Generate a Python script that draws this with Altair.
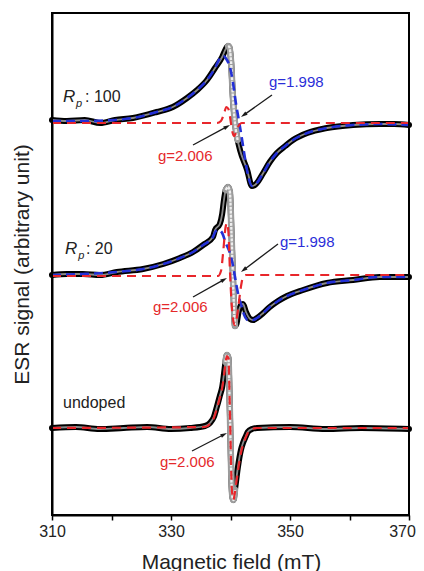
import math
import altair as alt
import pandas as pd

# ---------------- data ----------------
# Rp:100 spectrum (signal relative to its own baseline)
top_field = [310.0, 312.5, 315.5, 318.1, 320.6, 323.6, 327.6, 330.3, 332.7, 334.4, 336.05, 337.4,
             338.6, 339.2, 339.6, 339.8, 340.1, 340.4, 340.75, 341.2, 341.6, 342.8, 343.6, 344.1,
             345.5, 346.6, 347.8, 349.2, 350.5, 352.9, 356.2, 360.6, 365.1, 367.5, 370.0]
top_data = [3, 2, 3, 0, 3, 5, 11, 16, 25, 33, 43, 55,
            66, 74, 77, 76, 61, 26, 0, -17, -27, -47, -63, -62,
            -50, -39, -30, -23, -17, -10, -5, -2, -1, -1, -2]
top_blue_field = [310.0, 315.5, 320.6, 323.6, 327.6, 330.3, 332.7, 334.4, 336.05, 337.4, 338.05,
                  338.8, 339.4, 339.9, 340.4, 340.9, 341.4, 341.9, 342.4, 342.9, 343.6, 344.1,
                  345.5, 346.6, 347.8, 349.2, 350.5, 352.9, 356.2, 360.6, 365.1, 370.0]
top_blue = [2, 2, 3, 5, 11, 16, 25, 33, 43, 55, 63,
            67, 63, 56, 41, 20, 3, -15, -34, -51, -63, -62,
            -50, -39, -30, -23, -17, -10, -5, -2, -1, -2]
top_red_field = [310.0, 337.7, 338.4, 338.9, 339.3, 339.65, 340.0, 340.25, 340.6, 340.9, 341.35, 341.9, 370.0]
top_red = [0, 0, 2, 9, 16, 14, 3, -7, -13, -10, -3, 0, 0]

# Rp:20 spectrum
mid_field = [310.0, 312.5, 315.2, 318.1, 320.9, 325.3, 328.7, 331.5, 333.7, 335.4, 337.05, 337.4,
             338.2, 338.6, 338.9, 339.2, 339.6, 339.9, 340.15, 340.4, 340.6, 340.75, 341.0, 341.35,
             341.8, 342.1, 342.6, 343.3, 343.8, 344.45, 345.5, 346.6, 348.0, 349.5, 352.2, 356.2,
             360.6, 365.1, 370.0]
mid_data = [0, 1, 1, 0, 3, 6, 11, 17, 23, 30, 38, 45,
            51, 61, 75, 85, 88, 83, 45, 0, -35, -51, -49, -37,
            -30, -29, -37, -44, -45, -43, -38, -32, -26, -21, -15, -8,
            -5, -2, -2]
mid_blue_field = [310.0, 315.2, 320.9, 325.3, 328.7, 331.5, 333.7, 335.4, 337.05, 337.55, 338.05,
                  338.6, 339.2, 339.9, 340.4, 340.75, 341.25, 341.8, 342.3, 342.9, 343.8, 344.45,
                  345.5, 346.6, 348.0, 349.5, 352.2, 356.2, 360.6, 365.1, 370.0]
mid_blue = [0, 1, 3, 6, 11, 17, 23, 30, 38, 44, 45,
            42, 32, 22, 10, -2, -18, -30, -40, -45, -45, -43,
            -38, -32, -26, -21, -15, -8, -5, -2, -2]
mid_red_field = [310.0, 337.9, 338.4, 338.8, 339.15, 339.4, 339.65, 339.9, 340.15, 340.4, 340.7,
                 341.0, 341.35, 341.8, 342.1, 342.6, 370.0]
mid_red = [-1, -1, 4, 25, 47, 52, 43, 5, -25, -43, -50, -45, -30, -10, -2, 0, 0]

# undoped spectrum
bot_field = [310.0, 314.0, 318.0, 322.0, 326.0, 330.0, 333.2, 335.7, 336.55, 337.2, 337.7, 338.2,
             338.6, 338.9, 339.15, 339.4, 339.65, 339.85, 340.0, 340.15, 340.35, 340.5, 340.75,
             341.25, 341.75, 342.1, 342.6, 342.9, 343.6, 344.45, 350.0, 356.0, 362.0, 370.0]
bot_data = [0, 1, -1, 0, 1, -1, 0, 2, 5, 11, 21, 32,
            41, 54, 66, 73, 70, 28, -12, -52, -70, -72, -62,
            -39, -22, -15, -8, -4, -1, 0, 1, -1, 0, -1]
bot_red_field = [310.0, 335.7, 336.55, 337.2, 337.7, 338.2, 338.6, 338.9, 339.15, 339.4, 339.65,
                 339.85, 340.0, 340.15, 340.35, 340.5, 340.75, 341.25, 341.75, 342.1, 342.6, 342.9,
                 343.6, 344.45, 370.0]
bot_red = [0, 1, 4, 10, 19, 30, 40, 52, 64, 72, 70,
           30, -10, -50, -69, -72, -64, -43, -25, -17, -9, -5,
           -1, 0, 0]

spectra = ["Rp:100", "Rp:20", "undoped"]
offsets = [392, 240, 87]                      # vertical stacking offsets
steep_ranges = [(339.3, 341.5), (339.2, 340.9), (339.1, 340.75)]  # open-circle region of the data

series_table = [
    ("Rp:100", "data", top_field, top_data),
    ("Rp:100", "g=1.998", top_blue_field, top_blue),
    ("Rp:100", "g=2.006", top_red_field, top_red),
    ("Rp:20", "data", mid_field, mid_data),
    ("Rp:20", "g=1.998", mid_blue_field, mid_blue),
    ("Rp:20", "g=2.006", mid_red_field, mid_red),
    ("undoped", "data", bot_field, bot_data),
    ("undoped", "g=2.006", bot_red_field, bot_red),
]

rows = []
for spec, ser, fields, vals in series_table:
    i = spectra.index(spec)
    lo, hi = steep_ranges[i]
    for f, v in zip(fields, vals):
        rows.append({"spectrum": spec, "series": ser, "field": f, "signal": v + offsets[i],
                     "steep": lo <= f <= hi})
df = pd.DataFrame(rows)

# text annotations
ital_text = ["R", "p", "R", "p"]
ital_x = [311.85, 314.03, 312.2, 314.4]
ital_y = [413, 408, 261, 256]
ital_size = [17, 11, 17, 11]

norm_text = [": 100", ": 20", "undoped", "g=1.998", "g=2.006", "g=1.998", "g=2.006", "g=2.006"]
norm_x = [315.55, 315.7, 311.85, 346.47, 327.8, 348.3, 326.97, 328.15]
norm_y = [413, 261, 107, 428, 354, 268, 203, 48]
norm_size = [16, 16, 16, 15, 15, 15, 15, 15]
norm_color = ["#222222", "#222222", "#222222", "#2a2ed8", "#e5292b", "#2a2ed8", "#e5292b", "#e5292b"]

arrow_tail_x = [346.97, 333.70, 347.98, 333.70, 333.53]
arrow_tail_y = [420, 370, 271, 218, 64]
arrow_head_x = [341.76, 339.92, 341.76, 339.41, 339.41]
arrow_head_y = [398, 390, 243, 237, 82]

# ---------------- geometry helpers for arrows ----------------
W, H = 357, 502
XMIN, XMAX, YMIN, YMAX = 310, 370, 0, 502
PPX = W / (XMAX - XMIN)
PPY = H / (YMAX - YMIN)
HEAD = 3.35
arr_rows, head_rows = [], []
for tx, ty, hx, hy in zip(arrow_tail_x, arrow_tail_y, arrow_head_x, arrow_head_y):
    dx = (hx - tx) * PPX
    dy = -(hy - ty) * PPY
    L = math.hypot(dx, dy)
    ux, uy = dx / L, dy / L
    arr_rows.append({"x": tx, "y": ty, "x2": hx - ux * 5 / PPX, "y2": hy + uy * 5 / PPY})
    ang = math.degrees(math.atan2(ux, -uy)) % 360
    head_rows.append({"x": hx - ux * HEAD / PPX, "y": hy + uy * HEAD / PPY, "angle": ang})
arr_df = pd.DataFrame(arr_rows)
head_df = pd.DataFrame(head_rows)
ital_df = pd.DataFrame({"x": ital_x, "y": ital_y, "t": ital_text, "s": ital_size})
norm_df = pd.DataFrame({"x": norm_x, "y": norm_y, "t": norm_text, "s": norm_size, "c": norm_color})

FONT = "Liberation Sans"
x_enc = alt.X("field:Q", scale=alt.Scale(domain=[XMIN, XMAX], nice=False, zero=False),
              axis=alt.Axis(values=list(range(310, 371, 10)),
                            labelExpr="datum.value % 20 == 10 ? datum.label : ''",
                            labelOffset={"condition": {"test": "datum.value == 370", "value": -7},
                                         "value": 0},
                            tickSize=5, tickWidth=1.5, tickColor="black",
                            domainColor="black", domainWidth=2, grid=False,
                            labelFont=FONT, labelFontSize=16, labelColor="#222222",
                            labelPadding=3, labelOverlap=False, labelFlush=False,
                            title="Magnetic field (mT)", titleFont=FONT, titleFontSize=21,
                            titleFontWeight="normal", titleColor="#222222",
                            titleX=179, titleY=53, titleAlign="center", titleBaseline="alphabetic"))
y_enc = alt.Y("signal:Q", scale=alt.Scale(domain=[YMIN, YMAX], nice=False, zero=False),
              axis=alt.Axis(labels=False, ticks=False, grid=False, domainColor="black", domainWidth=2,
                            title="ESR signal (arbitrary unit)", titleFont=FONT, titleFontSize=21,
                            titleFontWeight="normal", titleColor="#222222", titleAngle=270,
                            titleX=-24, titleY=251, titleAlign="center", titleBaseline="alphabetic"))

base = alt.Chart(df).encode(x=x_enc, y=y_enc, detail="spectrum:N", order="field:Q")

data_black = base.transform_filter("datum.series == 'data'").mark_line(
    color="black", strokeWidth=6, interpolate="monotone", strokeJoin="round", strokeCap="round")
data_core = base.transform_filter("datum.series == 'data'").mark_line(
    color="#8a8a8a", strokeWidth=1.8, interpolate="monotone")
tube_outer = base.transform_filter("datum.series == 'data' && datum.steep").mark_line(
    color="#9c9c9c", strokeWidth=6.5, interpolate="monotone", strokeCap="round")
tube_inner = base.transform_filter("datum.series == 'data' && datum.steep").mark_line(
    color="#eeeeee", strokeWidth=2.4, interpolate="monotone", strokeDash=[3, 1])
blue = base.transform_filter("datum.series == 'g=1.998'").mark_line(
    color="#2330d6", strokeWidth=2.6, strokeDash=[9, 5], interpolate="monotone")
red = base.transform_filter("datum.series == 'g=2.006'").mark_line(
    color="#e8262b", strokeWidth=2.2, strokeDash=[9, 6], interpolate="monotone")

arrows = alt.Chart(arr_df).mark_rule(color="#1a1a1a", strokeWidth=1.3).encode(
    x="x:Q", y="y:Q", x2="x2:Q", y2="y2:Q")
heads = alt.Chart(head_df).mark_point(
    shape="M0,-1L0.6,1L-0.6,1Z", filled=True, size=45, color="#1a1a1a", opacity=1, strokeWidth=0
).encode(x="x:Q", y="y:Q", angle=alt.Angle("angle:Q", scale=None))

ital = alt.Chart(ital_df).mark_text(font=FONT, fontStyle="italic", align="left",
                                    baseline="alphabetic", color="#222222").encode(
    x="x:Q", y="y:Q", text="t:N", size=alt.Size("s:Q", scale=None, legend=None))
norm = alt.Chart(norm_df).mark_text(font=FONT, align="left", baseline="alphabetic").encode(
    x="x:Q", y="y:Q", text="t:N", size=alt.Size("s:Q", scale=None, legend=None),
    color=alt.Color("c:N", scale=None, legend=None))

frame = alt.Chart(pd.DataFrame({"k": [0]})).mark_rect(
    fill=None, fillOpacity=0, stroke="black", strokeWidth=2).encode(
    x=alt.value(0), x2=alt.value(W), y=alt.value(0), y2=alt.value(H))

chart = alt.layer(data_black, data_core, tube_outer, tube_inner, blue, red,
                  arrows, heads, ital, norm, frame).properties(
    width=W, height=H,
    autosize=alt.AutoSizeParams(type="none"),
    padding={"left": 44, "top": 5, "right": 7, "bottom": 56},
).configure_view(stroke="black", strokeWidth=2).configure(background="white")

chart.save("out.html", embed_options={"renderer": "svg", "actions": False})
